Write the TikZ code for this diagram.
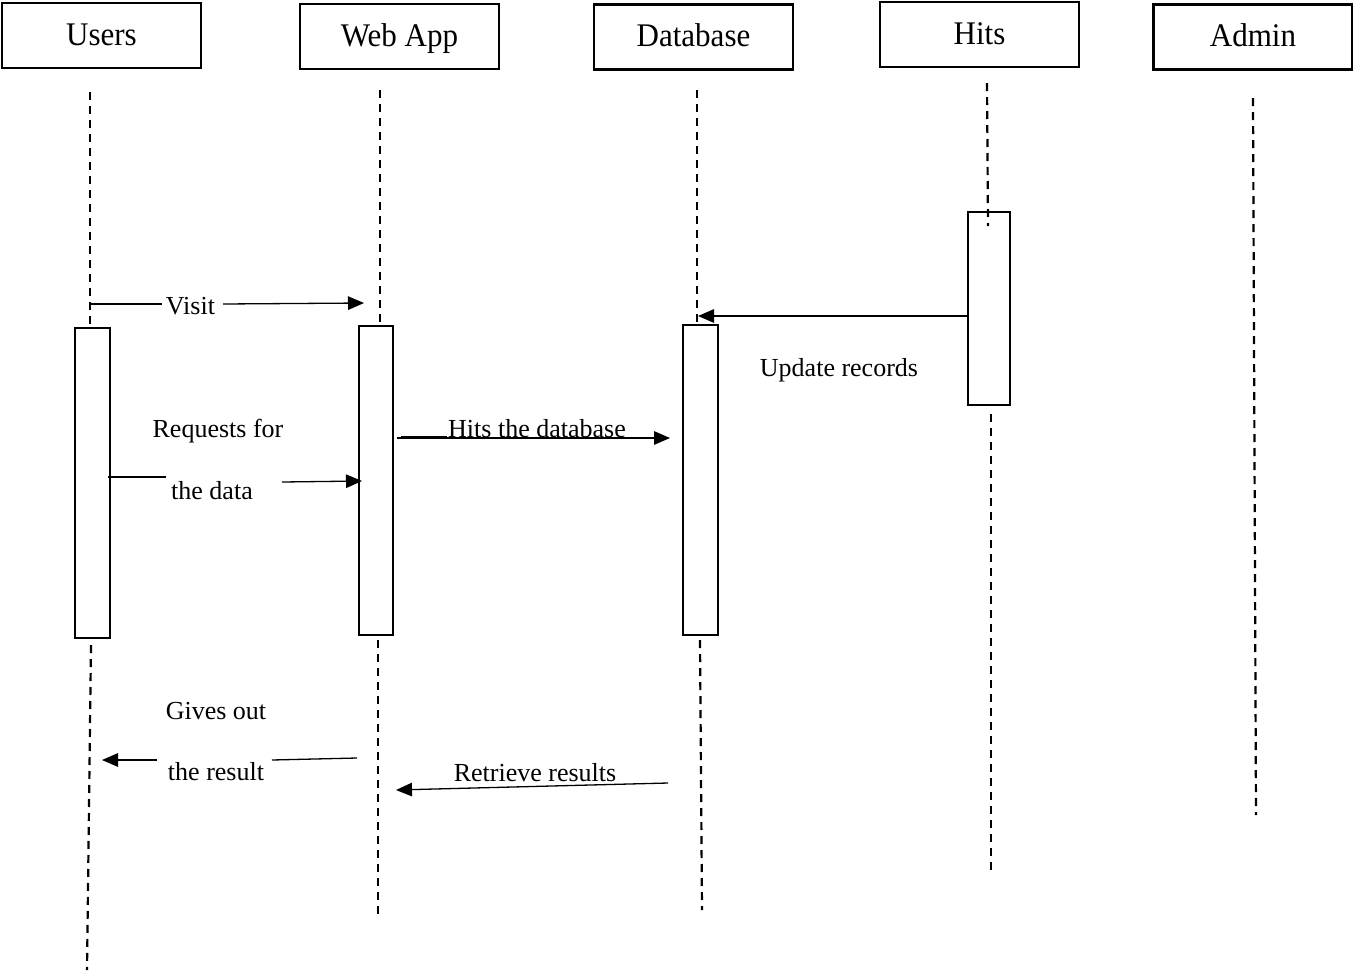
\documentclass[tikz,border=0pt]{standalone}
\usepackage{fontspec}
\setmainfont{Liberation Serif}
\newfontfamily\headfont[FakeStretch=0.94]{Liberation Serif}
\usetikzlibrary{arrows.meta}
\begin{document}
\begin{tikzpicture}[x=1pt,y=-1pt,
  headbox/.style={draw,line width=2.8pt,minimum width=199pt,minimum height=65pt,inner sep=0pt,
    font=\headfont\fontsize{33}{38}\selectfont,text height=27pt,text depth=8pt},
  actbox/.style={draw,line width=2.6pt,inner sep=0pt},
  lifeline/.style={line width=2.2pt,dash pattern=on 8pt off 6pt},
  msg/.style={line width=1.3pt},
  arr/.style={msg,-{Triangle[length=16pt,width=13.5pt]}},
  lbl/.style={anchor=base,inner sep=0pt,font=\fontsize{26}{30}\selectfont}]
\useasboundingbox (0,0) rectangle (1353,975);

% participants
\node[headbox] (users) at (101.5,35.5) {Users};
\node[headbox] (webapp) at (399.5,36.5) {Web App};
\node[headbox] (db) at (693.5,37) {Database};
\node[headbox] (hits) at (979.5,34.5) {Hits};
\node[headbox] (admin) at (1253,37) {Admin};

% activation bars
\node[actbox,minimum width=35pt,minimum height=310pt] (uact) at (92.5,483) {};
\node[actbox,minimum width=34pt,minimum height=309pt] (wact) at (376,480.5) {};
\node[actbox,minimum width=35pt,minimum height=310pt] (dact) at (700.5,480) {};
\node[actbox,minimum width=42pt,minimum height=193pt] (hact) at (989,308.5) {};

% lifeline end points
\coordinate (uTop) at (90,92);    \coordinate (uMid) at (90,326);
\coordinate (uLow) at (91,645);   \coordinate (uEnd) at (87,970);
\coordinate (wTop) at (380,90);   \coordinate (wMid) at (380,324);
\coordinate (wLow) at (378,640);  \coordinate (wEnd) at (378,918);
\coordinate (dTop) at (697,90);   \coordinate (dMid) at (697,323);
\coordinate (dLow) at (700,640);  \coordinate (dEnd) at (702,910);
\coordinate (hTop) at (987,83);   \coordinate (hMid) at (988,226);
\coordinate (hLow) at (991,414);  \coordinate (hEnd) at (991,870);
\coordinate (aTop) at (1253,98);  \coordinate (aEnd) at (1256,815);

\draw[lifeline] (uTop) -- (uMid);
\draw[lifeline] (uLow) -- (uEnd);
\draw[lifeline] (wTop) -- (wMid);
\draw[lifeline] (wLow) -- (wEnd);
\draw[lifeline] (dTop) -- (dMid);
\draw[lifeline] (dLow) -- (dEnd);
\draw[lifeline] (hTop) -- (hMid);
\draw[lifeline] (hLow) -- (hEnd);
\draw[lifeline] (aTop) -- (aEnd);

% message labels
\node[lbl] (tVisit) at (190.5,314) {Visit};
\node[lbl] (tReq) at (218,437) {Requests for};
\node[lbl] (tData) at (212,499) {the data};
\node[lbl] (tHitDb) at (537,437) {Hits the database};
\node[lbl] (tUpd) at (839,376) {Update records};
\node[lbl] (tGive) at (216,719) {Gives out};
\node[lbl] (tRes) at (216,780) {the result};
\node[lbl] (tRetr) at (535,781) {Retrieve results};

% message end points
\coordinate (visA) at (90,304);   \coordinate (visB) at (162,304);
\coordinate (visC) at (223,304);  \coordinate (visD) at (364,303);
\coordinate (reqA) at (108,477);  \coordinate (reqB) at (166,477);
\coordinate (reqC) at (282,482);  \coordinate (reqD) at (362,481);
\coordinate (hdA) at (397,438);   \coordinate (hdB) at (670,438);
\coordinate (hdC) at (401,436.3); \coordinate (hdD) at (447,436.3);
\coordinate (updA) at (968,316);  \coordinate (updB) at (698,316);
\coordinate (givA) at (157,760);  \coordinate (givB) at (102,760);
\coordinate (givC) at (272,760);  \coordinate (givD) at (357,758);
\coordinate (retA) at (668,783);  \coordinate (retB) at (396,790);

% messages
\draw[msg] (visA) -- (visB);
\draw[arr] (visC) -- (visD);
\draw[msg] (reqA) -- (reqB);
\draw[arr] (reqC) -- (reqD);
\draw[arr] (hdA) -- (hdB);
\draw[msg] (hdC) -- (hdD);
\draw[arr] (updA) -- (updB);
\draw[arr] (givA) -- (givB);
\draw[msg] (givC) -- (givD);
\draw[arr] (retA) -- (retB);
\end{tikzpicture}
\end{document}
